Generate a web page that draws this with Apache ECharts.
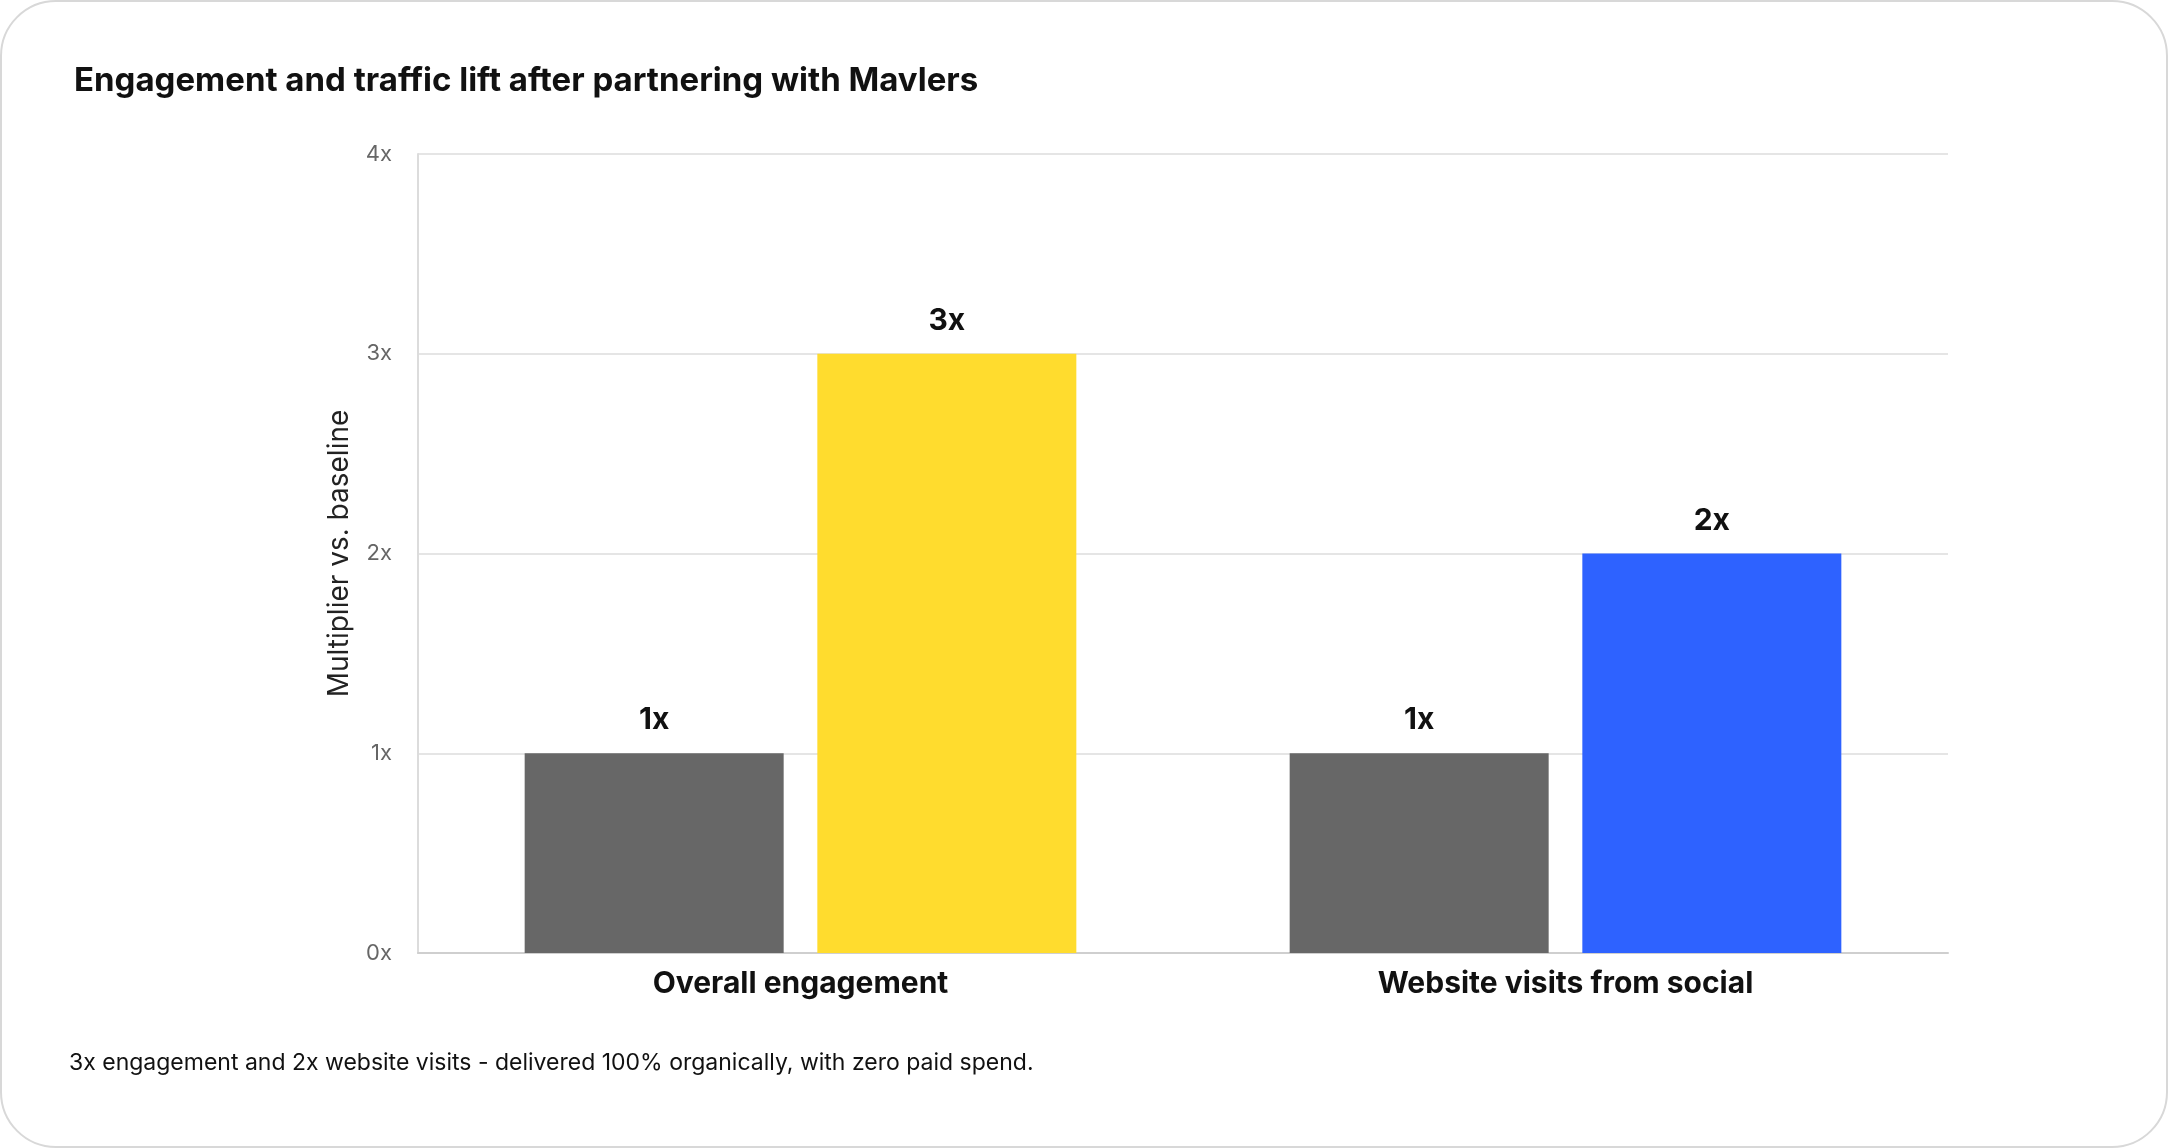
<!DOCTYPE html>
<html>
<head>
<meta charset="utf-8">
<script src="https://cdn.jsdelivr.net/npm/echarts@6/dist/echarts.min.js"></script>
<style>
  html, body { margin: 0; padding: 0; background: #fff; }
  #chart { width: 2168px; height: 1148px; box-sizing: border-box; border: 2px solid #d8d8d8; border-radius: 56px; overflow: hidden; }
</style>
</head>
<body>
<div id="chart"></div>
<script>
// chart data
var categories = ['Overall engagement', 'Website visits from social'];
var beforeValues = [1, 1];
var afterValues = [3, 2];
var afterColors = ['#FFDC2E', '#2E62FF'];
var baselineValue = 1;

var chart = echarts.init(document.getElementById('chart'));
var font = 'Inter, "Noto Sans", sans-serif';

chart.setOption({
    animation: false,
    textStyle: { fontFamily: font },
    title: {
        text: 'Engagement and traffic lift after partnering with Mavlers',
        left: 67, top: 58,
        textStyle: { fontSize: 33, fontWeight: 'bold', color: '#111', fontFamily: font }
    },
    grid: { left: 416, right: 218, top: 152, bottom: 193 },
    xAxis: {
        type: 'category',
        data: categories,
        axisTick: { show: false },
        axisLine: { lineStyle: { color: '#cfcfcf', width: 2 } },
        axisLabel: { fontSize: 30, fontWeight: 'bold', color: '#111', margin: 16, fontFamily: font }
    },
    yAxis: {
        type: 'value',
        min: 0, max: 4, interval: 1,
        name: 'Multiplier vs. baseline',
        nameLocation: 'middle',
        nameGap: 64,
        nameTextStyle: { fontSize: 28, color: '#222', fontFamily: font },
        axisLine: { show: true, lineStyle: { color: '#dcdcdc', width: 2 } },
        splitLine: { lineStyle: { color: '#dcdcdc', width: 1.5 } },
        axisLabel: { formatter: '{value}x', fontSize: 22, color: '#666', margin: 26, fontFamily: font }
    },
    series: [
        {
            type: 'bar',
            name: 'Before',
            data: beforeValues,
            barWidth: 259,
            barGap: '13%',
            itemStyle: { color: '#676767' },
            label: { show: true, position: 'top', distance: 18, formatter: '{c}x', fontSize: 30, fontWeight: 'bold', color: '#111' },
            markLine: {
                symbol: 'none',
                silent: true,
                data: [{ yAxis: baselineValue }],
                lineStyle: { opacity: 0 },
                label: { position: 'insideEndTop', formatter: 'Baseline (1x)', fontSize: 22, color: '#555', offset: [56, -6] }
            }
        },
        {
            type: 'bar',
            name: 'After',
            data: afterValues.map(function (v, i) { return { value: v, itemStyle: { color: afterColors[i] } }; }),
            barWidth: 259,
            label: { show: true, position: 'top', distance: 18, formatter: '{c}x', fontSize: 30, fontWeight: 'bold', color: '#111' }
        }
    ],
    graphic: [{
        type: 'text',
        left: 67, top: 1050,
        style: { text: '3x engagement and 2x website visits - delivered 100% organically, with zero paid spend.', font: '23px ' + font, fill: '#111' }
    }]
});
</script>
</body>
</html>
